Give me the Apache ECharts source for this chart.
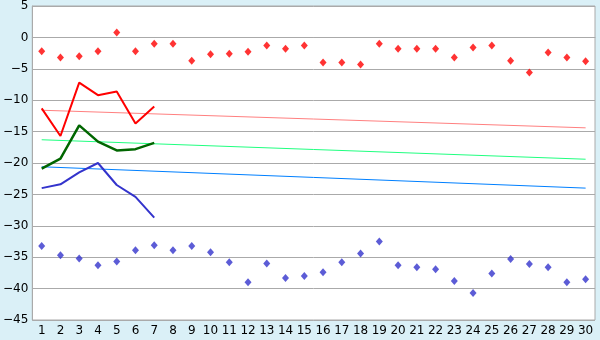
<!DOCTYPE html>
<html><head><meta charset="utf-8">
<script src="https://cdn.jsdelivr.net/npm/echarts@6/dist/echarts.min.js"></script>
<style>html,body{margin:0;padding:0;background:#daf0f7}#c{width:600px;height:340px}</style>
</head><body><div id="c"></div>
<script>
var categories = [];
for (var i = 1; i <= 30; i++) categories.push(String(i));
var yTicks = [5, 0, -5, -10, -15, -20, -25, -30, -35, -40, -45];
var redDots = [-2.2,-3.2,-3.0,-2.2,0.8,-2.2,-1.0,-1.0,-3.7,-2.7,-2.6,-2.3,-1.3,-1.8,-1.3,-4.0,-4.0,-4.3,-1.0,-1.8,-1.8,-1.8,-3.2,-1.6,-1.3,-3.7,-5.6,-2.4,-3.2,-3.8];
var blueDots = [-33.2,-34.7,-35.2,-36.3,-35.7,-33.9,-33.1,-33.9,-33.2,-34.2,-35.8,-39.0,-36.0,-38.3,-38.0,-37.4,-35.8,-34.4,-32.5,-36.3,-36.6,-36.9,-38.8,-40.7,-37.6,-35.3,-36.1,-36.6,-39.0,-38.5];
var redLine = [-11.3,-15.7,-7.2,-9.2,-8.6,-13.7,-11.0];
var greenLine = [-20.9,-19.3,-14.0,-16.6,-18.0,-17.8,-16.8];
var blueLine = [-24.0,-23.4,-21.5,-20.0,-23.5,-25.4,-28.7];
var redTrendEnds = [-11.6, -14.4];
var greenTrendEnds = [-16.3, -19.4];
var blueTrendEnds = [-20.6, -24.0];

function trend(ends) {
  var d = categories.map(function(){ return null; });
  d[0] = ends[0]; d[categories.length - 1] = ends[1];
  return d;
}
var chart = echarts.init(document.getElementById('c'));
chart.setOption({
  backgroundColor: '#daf0f7',
  animation: false,
  grid: {left: 26, right: 5, top: 5, bottom: 20, show: true, backgroundColor: '#ffffff', borderColor: '#aaaaaa', borderWidth: 1},
  xAxis: {
    type: 'category', data: categories, boundaryGap: true,
    axisLine: {lineStyle: {color: '#aaaaaa'}},
    axisTick: {alignWithLabel: true, length: 6, lineStyle: {color: '#333'}},
    axisLabel: {color: '#000', fontFamily: 'DejaVu Sans', fontSize: 12, margin: 5, interval: 0},
    splitLine: {show: false}
  },
  yAxis: {
    type: 'value', min: -45, max: 5, interval: 5,
    axisLine: {show: true, lineStyle: {color: '#aaaaaa'}},
    axisTick: {show: false},
    axisLabel: {color: '#000', fontFamily: 'DejaVu Sans', fontSize: 12, margin: 4,
      formatter: function(v){ return yTicks.indexOf(v) >= 0 ? (v < 0 ? '\u2212' + (-v) : String(v)) : ''; }},
    splitLine: {lineStyle: {color: '#aaaaaa', width: 1}}
  },
  series: [
    {type: 'line', data: trend(redTrendEnds), connectNulls: true, symbol: 'none', lineStyle: {color: '#ff8080', width: 1}},
    {type: 'line', data: trend(greenTrendEnds), connectNulls: true, symbol: 'none', lineStyle: {color: '#20ff80', width: 1}},
    {type: 'line', data: trend(blueTrendEnds), connectNulls: true, symbol: 'none', lineStyle: {color: '#0080ff', width: 1}},
    {type: 'line', data: redLine, symbol: 'none', lineStyle: {color: '#ff0000', width: 2}},
    {type: 'line', data: greenLine, symbol: 'none', lineStyle: {color: '#006600', width: 2.5}},
    {type: 'line', data: blueLine, symbol: 'none', lineStyle: {color: '#3333cc', width: 2}},
    {type: 'scatter', data: redDots, symbol: 'diamond', symbolSize: [7, 8], itemStyle: {color: '#ff0000'}},
    {type: 'scatter', data: blueDots, symbol: 'diamond', symbolSize: [7, 8], itemStyle: {color: '#3333cc'}}
  ]
});
</script></body></html>
